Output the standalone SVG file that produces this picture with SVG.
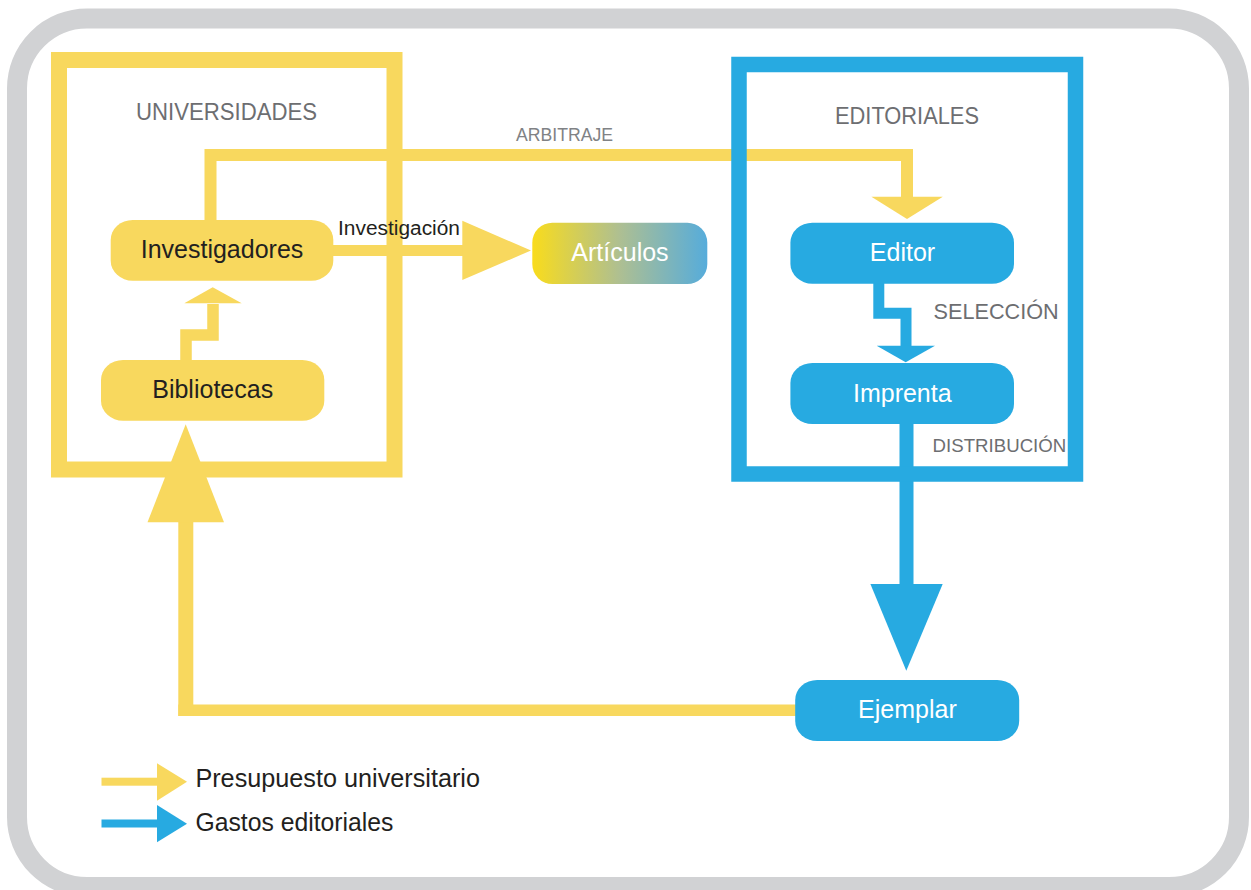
<svg xmlns="http://www.w3.org/2000/svg" width="1251" height="890" viewBox="0 0 1251 890">
  <style>
    .y { fill: #F8D85E; }
    .b { fill: #27AAE1; }
    .ys { fill: none; stroke: #F8D85E; stroke-linejoin: miter; }
    .bs { fill: none; stroke: #27AAE1; stroke-linejoin: miter; }
    text { font-family: "Liberation Sans", Arial, sans-serif; }
    .title { fill: #6D6E71; font-size: 23px; }
    .lbl { fill: #6D6E71; font-size: 19px; }
    .dark { fill: #231F20; font-size: 25px; text-anchor: middle; }
    .white { fill: #FFFFFF; font-size: 25px; text-anchor: middle; }
    .leg { fill: #231F20; font-size: 25px; }
  </style>
  <defs>
    <linearGradient id="artGrad" x1="0" y1="0" x2="1" y2="0">
      <stop offset="0" stop-color="#F9DC1C"/>
      <stop offset="0.5" stop-color="#AEBF92"/>
      <stop offset="1" stop-color="#56ACDB"/>
    </linearGradient>
  </defs>

  <rect x="0" y="0" width="1251" height="890" fill="#FFFFFF"/>

  <!-- outer frame -->
  <rect id="frame" x="17" y="18.5" width="1222" height="868.5" rx="70" ry="70" fill="none" stroke="#D1D2D4" stroke-width="20"/>

  <!-- UNIVERSIDADES container -->
  <g id="universidades">
    <rect x="59" y="60" width="335.5" height="409.5" class="ys" stroke-width="16"/>
    <text class="title" x="136" y="120" textLength="181" lengthAdjust="spacingAndGlyphs">UNIVERSIDADES</text>
  </g>

  <!-- connectors -->
  <g id="connectors">
    <!-- Arbitraje -->
    <path d="M210.5 221 V155 H907 V198" class="ys" stroke-width="12"/>
    <polygon points="871.4,196.7 942.8,196.7 907,219" class="y"/>
    <text x="516" y="140.5" fill="#808285" font-size="19" textLength="97" lengthAdjust="spacingAndGlyphs">ARBITRAJE</text>
    <!-- Investigacion -->
    <rect x="333" y="245" width="130" height="11" class="y"/>
    <polygon points="462.3,220.7 531,250.5 462.3,280" class="y"/>
    <text x="338" y="234.5" fill="#231F20" font-size="20" textLength="122" lengthAdjust="spacingAndGlyphs">Investigación</text>
    <!-- Bibliotecas to Investigadores -->
    <path d="M186 361 V335 H213 V304" class="ys" stroke-width="11.5"/>
    <polygon points="184.3,303.3 241.7,303.3 212.7,287.3" class="y"/>
    <!-- Seleccion -->
    <path d="M878.8 283 V313.3 H906 V347" class="bs" stroke-width="11"/>
    <polygon points="876.7,345.7 935,345.7 905.7,362.3" class="b"/>
    <text class="lbl" x="933.6" y="319" font-size="22" style="font-size:22px" textLength="125" lengthAdjust="spacingAndGlyphs">SELECCIÓN</text>
    <!-- Distribucion -->
    <rect x="899.5" y="423" width="14" height="163" class="b"/>
    <polygon points="870.4,584 942.7,584 906.3,670.7" class="b"/>
    <text class="lbl" x="932.6" y="451.7" textLength="133.7" lengthAdjust="spacingAndGlyphs">DISTRIBUCIÓN</text>
    <!-- Ejemplar back to Bibliotecas -->
    <rect x="178.3" y="704.5" width="620" height="11.5" class="y"/>
    <rect x="178.3" y="520" width="15" height="196" class="y"/>
    <polygon points="147.5,522.3 224,522.3 185.7,424.3" class="y"/>
  </g>

  <!-- EDITORIALES container -->
  <g id="editoriales">
    <rect x="739" y="64.5" width="336.5" height="409.5" class="bs" stroke-width="15.5"/>
    <text class="title" x="835" y="124" textLength="144" lengthAdjust="spacingAndGlyphs">EDITORIALES</text>
  </g>

  <g id="investigadores">
    <rect x="110.7" y="220" width="222.6" height="60.7" rx="22" ry="20" class="y"/>
    <text class="dark" x="222" y="258">Investigadores</text>
  </g>

  <g id="bibliotecas">
    <rect x="101" y="360" width="223.3" height="60.7" rx="22" ry="20" class="y"/>
    <text class="dark" x="212.7" y="398">Bibliotecas</text>
  </g>

  <g id="articulos">
    <rect x="532.3" y="222.7" width="175" height="61.3" rx="20" ry="20" fill="url(#artGrad)"/>
    <text class="white" x="620" y="260.5">Artículos</text>
  </g>

  <g id="editor">
    <rect x="790.4" y="222.7" width="223.6" height="61" rx="22" ry="20" class="b"/>
    <text class="white" x="902.5" y="260.5">Editor</text>
  </g>

  <g id="imprenta">
    <rect x="790.4" y="363" width="223.6" height="61" rx="22" ry="20" class="b"/>
    <text class="white" x="902.3" y="401.5">Imprenta</text>
  </g>

  <g id="ejemplar">
    <rect x="795.2" y="680" width="224" height="61" rx="22" ry="20" class="b"/>
    <text class="white" x="907.4" y="718.3">Ejemplar</text>
  </g>

  <!-- legend -->
  <g id="legend">
    <rect x="101.5" y="777.7" width="56" height="8" class="y"/>
    <polygon points="157,763.3 187,781.7 157,800.7" class="y"/>
    <text class="leg" x="195.4" y="787.3" textLength="284.6" lengthAdjust="spacingAndGlyphs">Presupuesto universitario</text>
    <rect x="101.5" y="819.5" width="56" height="8" class="b"/>
    <polygon points="157,805 187,823.7 157,842.3" class="b"/>
    <text class="leg" x="195.4" y="831" textLength="198" lengthAdjust="spacingAndGlyphs">Gastos editoriales</text>
  </g>
</svg>
